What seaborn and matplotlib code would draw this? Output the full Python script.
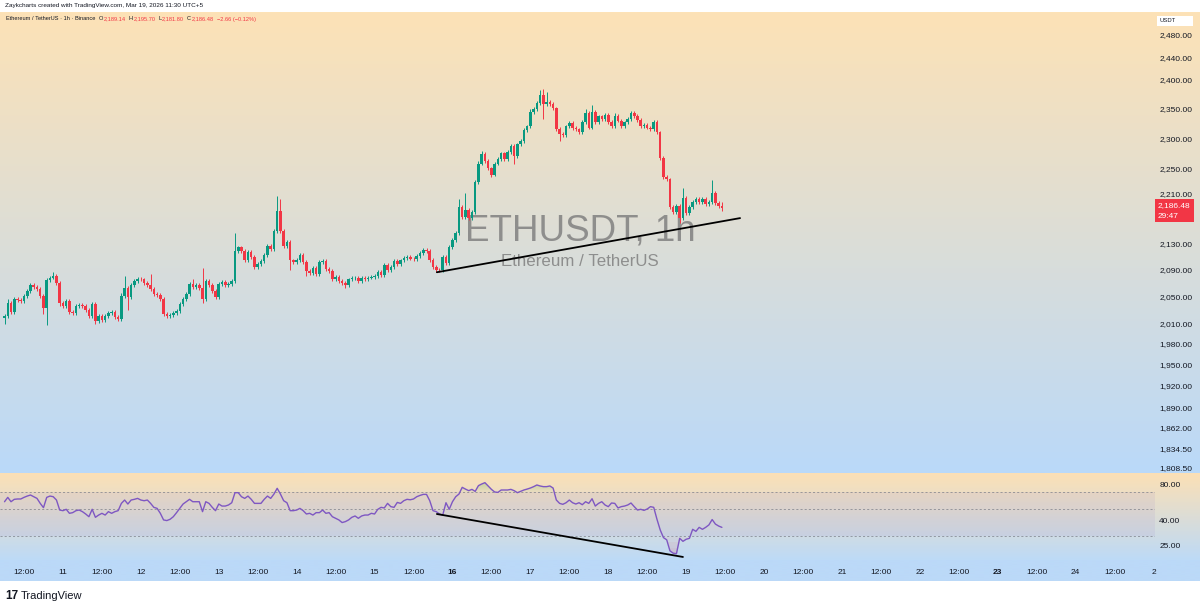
import matplotlib
matplotlib.use("Agg")
import matplotlib.pyplot as plt
import matplotlib.ticker as mticker
import matplotlib.transforms as mtrans
from matplotlib.patches import Rectangle
import seaborn as sns
import numpy as np
import pandas as pd

# ETHUSDT 1h (Binance)
# bar hour counted from Mar 10 00:00, first bar 06:00, last bar Mar 19 11:00
first_hour = 6
first_open = 2018

closes = [
    2020, 2040, 2026, 2045, 2044, 2042, 2050, 2057, 2067, 2063,
    2060, 2050, 2032, 2074, 2078, 2080, 2070, 2040, 2036, 2042,
    2027, 2025, 2035, 2037, 2035, 2030, 2021, 2038, 2013, 2021,
    2014, 2021, 2025, 2027, 2019, 2016, 2050, 2062, 2048, 2066,
    2072, 2076, 2075, 2069, 2067, 2060, 2053, 2052, 2045, 2023,
    2020, 2022, 2025, 2028, 2038, 2046, 2053, 2068, 2063, 2066,
    2062, 2045, 2072, 2066, 2058, 2049, 2068, 2071, 2066, 2068,
    2073, 2118, 2124, 2118, 2104, 2117, 2110, 2094, 2098, 2103,
    2113, 2126, 2122, 2149, 2182, 2150, 2126, 2133, 2104, 2101,
    2105, 2112, 2101, 2088, 2085, 2093, 2083, 2101, 2103, 2091,
    2088, 2075, 2079, 2073, 2070, 2066, 2075, 2077, 2078, 2073,
    2078, 2075, 2078, 2079, 2081, 2086, 2082, 2097, 2089, 2094,
    2103, 2099, 2104, 2108, 2110, 2107, 2106, 2111, 2115, 2120,
    2119, 2105, 2094, 2090, 2089, 2110, 2100, 2125, 2136, 2146,
    2188, 2172, 2183, 2170, 2180, 2228, 2258, 2274, 2262, 2250,
    2240, 2258, 2266, 2275, 2266, 2277, 2288, 2271, 2290, 2296,
    2314, 2320, 2345, 2350, 2360, 2374, 2358, 2362, 2358, 2351,
    2316, 2308, 2305, 2320, 2326, 2317, 2315, 2311, 2328, 2343,
    2318, 2345, 2328, 2337, 2333, 2340, 2328, 2320, 2338, 2330,
    2320, 2327, 2333, 2343, 2338, 2331, 2320, 2323, 2318, 2316,
    2328, 2310, 2267, 2236, 2232, 2188, 2180, 2190, 2170, 2202,
    2178, 2188, 2196, 2201, 2195, 2201, 2192, 2196, 2210, 2194,
    2189.14, 2186.48,
]

# wick length above / below the body
wick_up = [
    4, 6, 3, 3, 3, 3, 3, 3, 3, 3,
    3, 3, 3, 4, 3, 6, 3, 3, 3, 3,
    3, 3, 3, 3, 3, 3, 3, 3, 3, 3,
    3, 3, 3, 3, 3, 3, 4, 18, 3, 3,
    3, 3, 3, 3, 3, 17, 3, 3, 3, 3,
    3, 3, 3, 3, 3, 3, 3, 3, 8, 3,
    3, 31, 3, 3, 3, 3, 3, 3, 3, 3,
    3, 29, 3, 3, 3, 3, 3, 3, 3, 3,
    3, 3, 3, 4, 24, 18, 3, 3, 3, 3,
    3, 3, 3, 3, 3, 3, 3, 3, 3, 3,
    3, 3, 3, 3, 3, 3, 3, 3, 3, 3,
    3, 3, 3, 3, 3, 3, 3, 3, 3, 3,
    3, 3, 3, 3, 3, 3, 3, 3, 3, 3,
    3, 3, 3, 3, 3, 3, 3, 3, 3, 3,
    12, 3, 27, 3, 3, 3, 5, 5, 3, 3,
    3, 3, 3, 3, 3, 3, 3, 3, 3, 3,
    3, 3, 5, 3, 3, 9, 11, 17, 3, 3,
    3, 3, 3, 3, 3, 3, 3, 3, 3, 6,
    3, 11, 3, 3, 3, 3, 3, 3, 5, 3,
    3, 3, 3, 3, 3, 3, 3, 3, 3, 3,
    3, 3, 3, 3, 3, 3, 3, 3, 3, 16,
    3, 3, 3, 3, 3, 3, 3, 3, 21, 3,
    3, 6.56,
]
wick_dn = [
    10, 2, 3, 3, 3, 3, 3, 3, 3, 3,
    3, 3, 8, 25, 3, 3, 3, 4, 3, 3,
    3, 3, 3, 3, 3, 3, 3, 3, 4, 3,
    3, 3, 3, 3, 3, 3, 3, 3, 19, 3,
    3, 3, 3, 3, 3, 3, 3, 3, 3, 3,
    3, 3, 3, 3, 3, 3, 3, 3, 3, 3,
    3, 5, 3, 3, 3, 3, 3, 3, 3, 3,
    3, 3, 3, 3, 3, 3, 3, 3, 3, 3,
    3, 3, 3, 3, 3, 3, 3, 3, 14, 3,
    3, 3, 3, 8, 3, 3, 3, 3, 3, 3,
    3, 3, 3, 3, 3, 4, 3, 3, 3, 3,
    3, 3, 3, 3, 3, 3, 3, 3, 3, 3,
    3, 3, 3, 3, 3, 3, 3, 3, 3, 3,
    3, 3, 3, 3, 3, 3, 3, 3, 3, 3,
    3, 3, 3, 3, 3, 3, 3, 3, 3, 3,
    4, 3, 3, 3, 3, 3, 3, 13, 3, 3,
    3, 3, 3, 3, 3, 3, 25, 3, 3, 3,
    3, 13, 3, 3, 3, 3, 3, 3, 3, 3,
    3, 3, 3, 3, 3, 3, 3, 3, 3, 3,
    3, 3, 3, 3, 3, 3, 3, 3, 3, 3,
    3, 3, 3, 3, 3, 3, 3, 3, 8, 3,
    3, 3, 3, 3, 3, 3, 3, 3, 3, 3,
    3, 4.68,
]

rsi = [
    57.8, 62.8, 57.8, 60.5, 60.9, 60.9, 62.8, 64.4, 65.7, 63.6,
    61.6, 56.0, 51.6, 62.8, 64.4, 63.6, 59.7, 49.3, 48.7, 50.0,
    46.3, 46.9, 48.7, 49.3, 47.8, 45.7, 43.4, 50.0, 42.9, 44.8,
    46.3, 44.8, 47.8, 46.3, 47.8, 48.7, 56.0, 59.7, 55.3, 59.7,
    60.5, 61.6, 59.7, 58.9, 59.7, 56.0, 51.9, 50.9, 46.3, 40.8,
    40.3, 41.3, 43.4, 46.9, 50.9, 55.3, 57.8, 60.5, 57.8, 57.8,
    57.8, 47.8, 57.8, 56.0, 51.9, 48.7, 55.3, 53.2, 53.2, 54.3,
    56.7, 68.7, 68.7, 63.6, 61.6, 64.4, 60.5, 56.0, 56.0, 56.0,
    60.5, 64.4, 61.6, 66.9, 74.7, 66.9, 58.9, 56.7, 48.7, 48.7,
    49.3, 50.9, 48.7, 45.7, 46.3, 44.8, 46.9, 46.9, 49.3, 46.3,
    46.9, 43.4, 42.1, 40.8, 38.8, 39.5, 40.8, 42.9, 44.0, 42.1,
    44.0, 44.8, 44.8, 46.3, 45.7, 50.0, 51.9, 51.3, 56.0, 52.6,
    51.9, 57.0, 56.0, 58.9, 60.5, 60.0, 60.9, 63.6, 65.2, 66.5,
    66.5, 58.9, 48.7, 47.8, 45.7, 44.8, 56.7, 50.0, 57.8, 63.6,
    66.9, 76.1, 73.6, 71.4, 73.2, 70.4, 78.6, 81.1, 83.2, 78.1,
    73.2, 69.6, 69.1, 72.3, 72.3, 72.3, 73.2, 71.4, 68.7, 70.4,
    72.3, 73.6, 75.1, 77.1, 79.6, 78.1, 77.1, 77.1, 78.1, 75.1,
    59.7, 56.0, 55.0, 56.7, 59.7, 56.7, 55.3, 56.7, 54.6, 57.8,
    56.0, 61.2, 53.2, 56.0, 57.8, 54.3, 52.6, 56.4, 56.0, 51.3,
    52.6, 53.2, 54.3, 56.4, 52.6, 49.3, 50.0, 49.0, 50.3, 52.6,
    51.9, 41.3, 33.7, 29.1, 27.9, 22.6, 21.6, 21.4, 28.7, 27.1,
    28.2, 28.7, 34.1, 32.8, 35.4, 34.1, 35.4, 37.1, 41.1, 37.7,
    36.3, 35.4,
]

price_ticks = [2480, 2440, 2400, 2350, 2300, 2250, 2210, 2130, 2090, 2050,
               2010, 1980, 1950, 1920, 1890, 1862, 1834.5, 1808.5]
rsi_ticks = [80, 40, 25]
time_hours = list(range(12, 361, 12))
time_labels = ["12:00", "11", "12:00", "12", "12:00", "13", "12:00", "14",
               "12:00", "15", "12:00", "16", "12:00", "17", "12:00", "18",
               "12:00", "19", "12:00", "20", "12:00", "21", "12:00", "22",
               "12:00", "23", "12:00", "24", "12:00", "2"]
bold_labels = ["16", "23"]

# hand drawn lines on the chart (hour, value)
price_line = ([139.2, 232.6], [2086, 2170])
rsi_line = ([139.2, 215.0], [45.7, 20.1])

GREEN = "#089981"
RED = "#f23645"
TXT = "#131722"
W, H = 1200, 609

sns.set_theme(style="white")
plt.rcParams["font.family"] = ["Liberation Sans", "DejaVu Sans"]

n = len(closes)
df = pd.DataFrame({
    "hour": first_hour + np.arange(n),
    "open": [first_open] + closes[:-1],
    "close": closes,
    "rsi": rsi,
})
body_top = df[["open", "close"]].max(axis=1)
body_bot = df[["open", "close"]].min(axis=1)
df["high"] = body_top + np.array(wick_up)
df["low"] = body_bot - np.array(wick_dn)
df["color"] = np.where(df["close"] >= df["open"], GREEN, RED)

fig = plt.figure(figsize=(W / 100, H / 100), dpi=100, facecolor="white")


def fx(x):
    return x / W


def fy(y):
    return 1 - y / H


# background gradients, drawn in pixel space
bg = fig.add_axes([0, 0, 1, 1], zorder=-5)
bg.axis("off")


def vgrad(y0, y1, c0, c1, x1=W):
    t = np.linspace(0, 1, 256)[:, None, None]
    a = np.array(c0) / 255
    b = np.array(c1) / 255
    img = a + (b - a) * t
    bg.imshow(img, extent=(0, x1, y1, y0), aspect="auto", interpolation="bilinear")


vgrad(12, 473, (253, 226, 182), (186, 217, 249))
vgrad(473, 560, (252, 224, 181), (189, 218, 247))
vgrad(560, 581, (187, 217, 248), (187, 217, 248))
bg.set_xlim(0, W)
bg.set_ylim(H, 0)

# USDT box and last price tag
bg.add_patch(Rectangle((1157, 15.5), 36, 10, facecolor="white", edgecolor="none"))
bg.text(1160, 20.5, "USDT", fontsize=4.2, color=TXT, va="center", ha="left")
bg.add_patch(Rectangle((1155, 199), 39, 23, facecolor=RED, edgecolor="none"))
bg.text(1158, 205.5, "2,186.48", fontsize=6, color="white", va="center", ha="left")
bg.text(1158, 216, "29:47", fontsize=6, color="white", va="center", ha="left")

# main price pane
ax = fig.add_axes([0, fy(473), fx(1155), (473 - 12) / H])
ax.set_facecolor("none")
ax.set_yscale("log")
ax.set_xlim(4.606, 360.43)
ax.set_ylim(1801.9, 2521.96)

ax.vlines(df["hour"], df["low"], df["high"], colors=df["color"], lw=0.7, zorder=2)
heights = (df["close"] - df["open"]).abs().clip(lower=0.8)
ax.bar(df["hour"], heights, bottom=body_bot, width=0.78, color=df["color"],
       linewidth=0, zorder=3)
ax.plot(price_line[0], price_line[1], color="black", lw=1.3, zorder=4,
        solid_capstyle="round")

ax.text(fx(580), fy(231), "ETHUSDT, 1h", transform=fig.transFigure, fontsize=26.5,
        color="#7d7d7d", alpha=0.82, ha="center", va="center", zorder=1)
ax.text(fx(580), fy(262), "Ethereum / TetherUS", transform=fig.transFigure,
        fontsize=12.2, color="#7d7d7d", alpha=0.82, ha="center", va="center", zorder=1)

ax.yaxis.tick_right()
ax.yaxis.set_major_locator(mticker.FixedLocator(price_ticks))
ax.yaxis.set_minor_locator(mticker.NullLocator())
ax.set_yticklabels([f"{v:,.2f}" for v in price_ticks])
ax.tick_params(axis="y", length=0, pad=3, labelsize=6, labelcolor=TXT)
ax.tick_params(axis="x", bottom=False, labelbottom=False)
for s in ax.spines.values():
    s.set_visible(False)
ax.grid(False)

# RSI pane
ax2 = fig.add_axes([0, fy(560), fx(1155), (560 - 473) / H])
ax2.set_facecolor("none")
ax2.set_yscale("log")
ax2.set_xlim(4.606, 360.43)
ax2.set_ylim(18.965, 100.09)
ax2.fill_between([4.606, 360.43], 30, 70, color="#7e57c2", alpha=0.08, lw=0)
for lvl in (70, 50, 30):
    ax2.axhline(lvl, color="#787b86", lw=0.6, ls=(0, (2.5, 2.5)), alpha=0.8)
r = df["rsi"].to_numpy()
for t in (70, 73, 76, 79, 82):
    ax2.fill_between(df["hour"], t, r, where=r > t, interpolate=True,
                     color="#4caf50", alpha=0.06, lw=0)
for t in (30, 27, 24, 22):
    ax2.fill_between(df["hour"], r, t, where=r < t, interpolate=True,
                     color="#f23645", alpha=0.05, lw=0)
sns.lineplot(data=df, x="hour", y="rsi", ax=ax2, color="#7e57c2", lw=1.0)
ax2.plot(rsi_line[0], rsi_line[1], color="black", lw=1.3, solid_capstyle="round")

ax2.yaxis.tick_right()
ax2.yaxis.set_major_locator(mticker.FixedLocator(rsi_ticks))
ax2.yaxis.set_minor_locator(mticker.NullLocator())
ax2.set_yticklabels([f"{v:.2f}" for v in rsi_ticks])
ax2.tick_params(axis="y", length=0, pad=3, labelsize=6, labelcolor=TXT)
ax2.tick_params(axis="x", bottom=False, labelbottom=False)
ax2.set_xlabel("")
ax2.set_ylabel("")
for s in ax2.spines.values():
    s.set_visible(False)
ax2.grid(False)

# time axis labels
tr = mtrans.blended_transform_factory(ax2.transData, fig.transFigure)
for h, lab in zip(time_hours, time_labels):
    ax2.text(h, fy(572.5), lab, transform=tr, fontsize=6, color=TXT, ha="center",
             va="center", clip_on=False,
             fontweight="bold" if lab in bold_labels else "normal")

# header / credits
fig.text(fx(5), fy(5.5), "Zaykcharts created with TradingView.com, Mar 19, 2026 11:30 UTC+5",
         fontsize=4.6, color=TXT, va="center")

# legend line, pieces laid out one after another
header = [("Ethereum / TetherUS · 1h · Binance", TXT, 3), ("O", TXT, 0), ("2,189.14", RED, 2.5),
          ("H", TXT, 0), ("2,195.70", RED, 2.5), ("L", TXT, 0), ("2,181.80", RED, 2.5),
          ("C", TXT, 0), ("2,186.48", RED, 2.5), ("\u22122.66 (\u22120.12%)", RED, 0)]
renderer = fig.canvas.get_renderer()
xpos = 6
for s, c, gap in header:
    t = fig.text(fx(xpos), fy(19), s, fontsize=4.1, color=c, va="center")
    xpos = t.get_window_extent(renderer).x1 + 0.5 + gap

fig.text(fx(5), fy(596), "17", fontsize=8.5, color=TXT, va="center", fontweight="bold")
fig.text(fx(21), fy(596), "TradingView", fontsize=8, color=TXT, va="center")

fig.savefig("out.png", dpi=100, facecolor="white")
